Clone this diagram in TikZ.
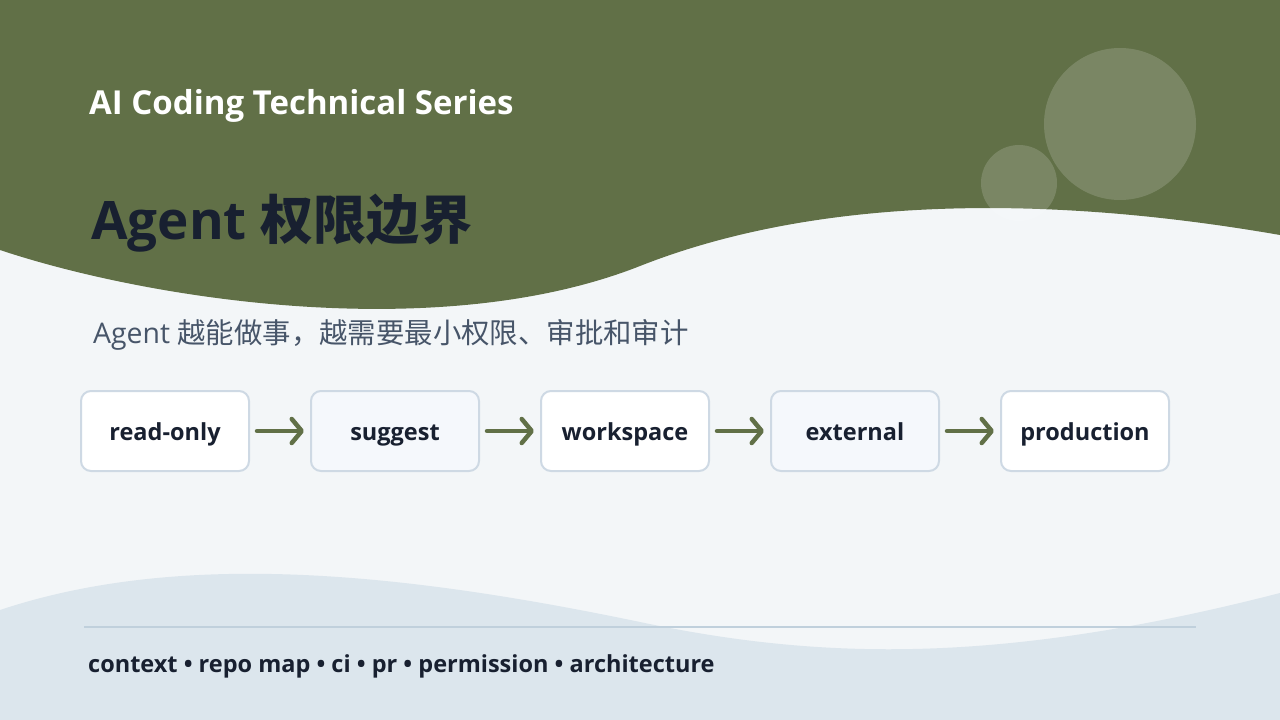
\documentclass[tikz,border=0pt]{standalone}
\usepackage{fontspec}
\setmainfont{Open Sans}
\newfontfamily\cjk{Noto Sans CJK SC}
\usetikzlibrary{positioning,arrows.meta}

\definecolor{paper}{RGB}{243,246,248}
\definecolor{leaf}{RGB}{97,112,71}
\definecolor{mist}{RGB}{220,230,237}
\definecolor{rulegray}{RGB}{192,208,220}
\definecolor{ink}{RGB}{24,32,48}
\definecolor{slate}{RGB}{71,85,105}
\definecolor{boxline}{RGB}{206,217,228}
\definecolor{boxtint}{RGB}{245,248,252}

\begin{document}
\begin{tikzpicture}[x=1pt,y=-1pt,font=\bfseries]
            \tikzstyle{stage}=[draw=boxline,line width=2pt,rounded corners=10pt,fill=white,
              minimum width=168pt,minimum height=80pt,inner sep=0pt,text=ink,
              text height=18pt,text depth=0pt,
              font=\bfseries\fontsize{23.5}{28}\selectfont]
            \tikzstyle{tinted}=[stage,fill=boxtint]
            \tikzstyle{flow}=[draw=leaf,line width=4.5pt,line cap=round,
              -{Straight Barb[length=10pt,width=24pt,round]},shorten <=7pt,shorten >=6pt]
            \tikzstyle{label}=[anchor=base west,inner sep=0pt]
            \useasboundingbox (0,0) rectangle (1280,720);
            \fill[paper] (0,0) rectangle (1280,720);
            % header band
            \fill[leaf] (0,0) -- (1280,0) -- (1280,235)
              .. controls (1050,195) and (820,195) .. (640,266)
              .. controls (440,345) and (150,300) .. (0,250) -- cycle;
            % footer band
            \fill[mist] (0,610) .. controls (180,550) and (400,572) .. (640,622)
              .. controls (820,660) and (1000,665) .. (1280,593)
              -- (1280,720) -- (0,720) -- cycle;
            \fill[white,opacity=0.16] (1120,124) circle[radius=76];
            \fill[white,opacity=0.16] (1019,183) circle[radius=38];
            \draw[rulegray,line width=2pt] (84,627) -- (1196,627);
            % texts
            \node[label,text=white,font=\bfseries\fontsize{33}{38}\selectfont] (series) at (89,114) {AI Coding Technical Series};
            \node[label,text=ink,font=\bfseries\fontsize{53}{60}\selectfont] (title) at (91,239) {Agent {\cjk 权限边界}};
            \node[label,text=slate,font=\mdseries\fontsize{28.4}{34}\selectfont] (lead) at (93,343) {Agent {\cjk 越能做事，越需要最小权限、审批和审计}};
            \node[label,text=ink,font=\bfseries\fontsize{23.5}{28}\selectfont] (tags) at (88,672) {context • repo map • ci • pr • permission • architecture};
            % stages
            \node[stage] (ro) at (165,431) {read-only};
            \node[tinted,right=60pt of ro] (sg) {suggest};
            \node[stage,right=60pt of sg] (ws) {workspace};
            \node[tinted,right=60pt of ws] (ex) {external};
            \node[stage,right=60pt of ex] (pr) {production};
            \draw[flow] (ro) -- (sg);
            \draw[flow] (sg) -- (ws);
            \draw[flow] (ws) -- (ex);
            \draw[flow] (ex) -- (pr);
\end{tikzpicture}
\end{document}
